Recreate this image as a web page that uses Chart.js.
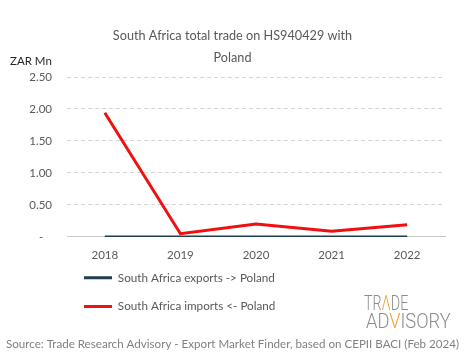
<!DOCTYPE html>
<html><head><meta charset="utf-8">
<script src="https://cdn.jsdelivr.net/npm/chart.js@4/dist/chart.umd.min.js"></script>
<style>
html,body{margin:0;padding:0;background:#fff;}
#wrap{position:relative;width:465px;height:359px;overflow:hidden;}
#unit{position:absolute;left:10px;top:54px;font:11.5px Lato, sans-serif;color:#262626;white-space:nowrap;}
.logo{position:absolute;font-family:Roboto, sans-serif;font-weight:300;font-size:21px;line-height:21px;color:#8c8c8c;transform-origin:left top;white-space:nowrap;}
.logo span{color:#f2a22c;}
#l1{left:364px;top:293px;transform:scaleX(0.68);}
#l2{left:366px;top:311px;transform:scaleX(0.87);}
</style></head>
<body><div id="wrap"><canvas id="c" width="465" height="359"></canvas>
<div id="unit">ZAR Mn</div>
<div class="logo" id="l1">TR<span>Λ</span>DE</div>
<div class="logo" id="l2">AD<span>V</span>ISORY</div>
</div>
<script>
const categories = ['2018', '2019', '2020', '2021', '2022'];
const exportsToPoland = [0, 0, 0, 0, 0];
const importsFromPoland = [1.94, 0.05, 0.20, 0.09, 0.19];
const yTickValues = [0, 0.5, 1, 1.5, 2, 2.5];
const seriesNames = ['South Africa exports -> Poland', 'South Africa imports <- Poland'];
const titleLines = ['South Africa total trade on HS940429 with', 'Poland'];
const sourceText = 'Source: Trade Research Advisory - Export Market Finder, based on CEPII BACI (Feb 2024)';

Chart.defaults.font.family = 'Lato, sans-serif';
Chart.defaults.color = '#595959';

const legendShift = {
  id: 'legendShift',
  afterLayout(chart) {
    const l = chart.legend;
    if (!l) return;
    const dy = -19.7;
    l.top += dy; l.bottom += dy;
  }
};

new Chart(document.getElementById('c'), {
  type: 'line',
  data: {
    labels: categories,
    datasets: [
      { label: seriesNames[0], data: exportsToPoland, borderColor: '#1f3e50', backgroundColor: '#1f3e50', borderWidth: 3, pointRadius: 0, tension: 0 },
      { label: seriesNames[1], data: importsFromPoland, borderColor: '#f01010', backgroundColor: '#f01010', borderWidth: 3, pointRadius: 0, tension: 0 }
    ]
  },
  options: {
    responsive: false,
    animation: false,
    devicePixelRatio: 1,
    layout: { padding: 0 },
    plugins: {
      title: {
        display: true,
        text: titleLines,
        color: '#595959',
        font: { size: 12.7, weight: 'normal', lineHeight: 22 / 12.7 },
        padding: { top: 25, bottom: 8 }
      },
      subtitle: {
        display: true,
        position: 'bottom',
        text: sourceText,
        color: '#808080',
        font: { size: 11.6, weight: 'normal', lineHeight: 1.2 },
        padding: { top: -5, bottom: 8 }
      },
      legend: {
        display: true,
        position: 'bottom',
        align: 'start',
        fullSize: false,
        labels: {
          usePointStyle: true,
          pointStyle: 'line',
          pointStyleWidth: 28,
          padding: 17,
          color: '#595959',
          font: { size: 11.7 }
        }
      },
      tooltip: { enabled: false }
    },
    scales: {
      x: {
        offset: true,
        grid: { display: false, drawTicks: false },
        border: { display: true, color: '#c8c8c8', width: 1 },
        ticks: { padding: 12, autoSkip: false, maxRotation: 0, color: '#595959', font: { size: 11.5 } }
      },
      y: {
        min: 0,
        max: 2.5,
        afterFit(scale) { scale.width = 67; },
        afterBuildTicks(scale) { scale.ticks = yTickValues.map(v => ({ value: v })); },
        grid: {
          drawTicks: false,
          color: (ctx) => ctx.tick && ctx.tick.value === 0 ? 'rgba(0,0,0,0)' : '#d4d4d4',
          lineWidth: 1,
          borderDash: [4, 3]
        },
        border: { display: false, dash: [4, 3] },
        ticks: {
          padding: 15,
          color: '#595959',
          font: { size: 11.5 },
          callback: (v) => v === 0 ? '-   ' : Number(v).toFixed(2)
        }
      },
      yRight: {
        position: 'right',
        display: true,
        afterFit(scale) { scale.width = 20; },
        grid: { display: false, drawTicks: false },
        border: { display: false },
        ticks: { display: false }
      }
    }
  },
  plugins: [legendShift]
});
</script>
</body></html>
